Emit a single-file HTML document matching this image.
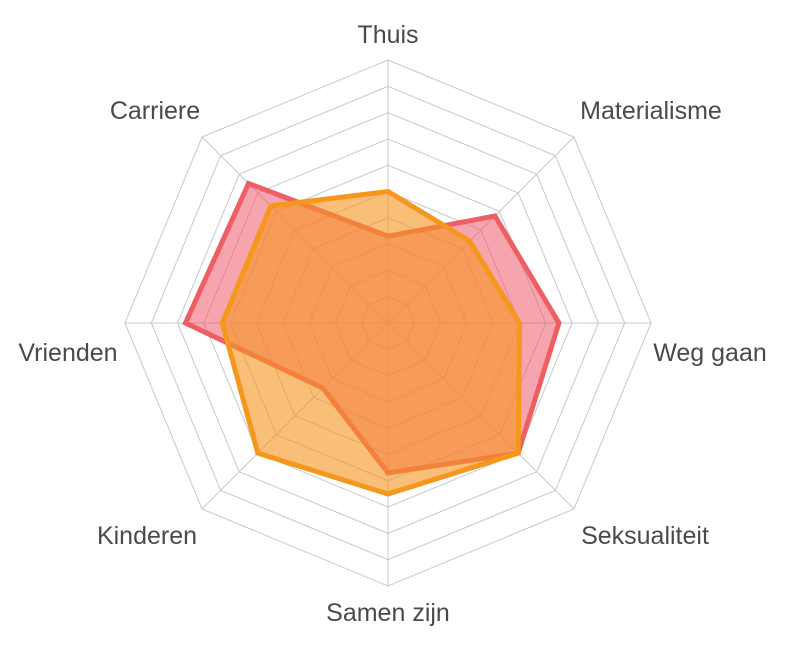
<!DOCTYPE html>
<html><head><style>
body{margin:0;background:#fff}
svg text{font-family:"Liberation Sans Narrow","Liberation Sans",sans-serif;font-size:25px;fill:#4a4a4a;text-anchor:middle}
</style></head><body>
<svg width="798" height="644" viewBox="0 0 798 644">
<g id="grid" stroke="#c8c8c8" stroke-width="1" fill="none"></g>
<polygon id="red" fill="rgba(238,90,105,0.55)" stroke="#ee5f63" stroke-width="5" stroke-linejoin="miter"/>
<polygon id="org" fill="rgba(245,150,35,0.62)" stroke="#f5971c" stroke-width="5" stroke-linejoin="miter"/>
<text x="388" y="43">Thuis</text>
<text x="651" y="119">Materialisme</text>
<text x="710" y="361">Weg gaan</text>
<text x="645" y="544">Seksualiteit</text>
<text x="388" y="621">Samen zijn</text>
<text x="147" y="544">Kinderen</text>
<text x="68" y="361">Vrienden</text>
<text x="155" y="119">Carriere</text>
</svg>
<script>
var cx=388,cy=323,R=263,ns="http://www.w3.org/2000/svg";
function pt(i,f){var a=-Math.PI/2+i*Math.PI/4;return [cx+R*f*Math.cos(a),cy+R*f*Math.sin(a)];}
var g=document.getElementById('grid');
for(var k=1;k<=10;k++){var p=[];for(var i=0;i<8;i++)p.push(pt(i,k/10).join(','));var e=document.createElementNS(ns,'polygon');e.setAttribute('points',p.join(' '));g.appendChild(e);}
for(var i=0;i<8;i++){var q=pt(i,1);var l=document.createElementNS(ns,'line');l.setAttribute('x1',cx);l.setAttribute('y1',cy);l.setAttribute('x2',q[0]);l.setAttribute('y2',q[1]);g.appendChild(l);}
function poly(id,v){document.getElementById(id).setAttribute('points',v.map(function(f,i){return pt(i,f).join(',')}).join(' '));}
poly('red',[0.33,0.575,0.65,0.70,0.57,0.35,0.77,0.75]);
poly('org',[0.50,0.44,0.50,0.70,0.65,0.70,0.63,0.63]);
</script>
</body></html>
